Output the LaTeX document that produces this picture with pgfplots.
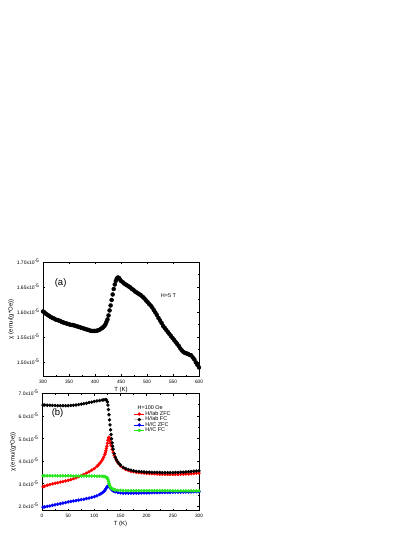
\documentclass[border=0pt]{standalone}
\usepackage{fontspec}
\setmainfont{Liberation Sans}
\usepackage{pgfplots}
\pgfplotsset{compat=1.18}

\pgfplotsset{
  chiaxis/.style={
    scale only axis,
    anchor=south west,
    tick align=inside,
    minor x tick num=1,
    minor y tick num=1,
    major tick length=2.2bp,
    minor tick length=1.3bp,
    tick style={black, line width=0.4pt},
    axis line style={line width=0.5pt},
    xticklabel style={font=\fontsize{4.8}{5}\selectfont},
    yticklabel style={font=\fontsize{5}{5.5}\selectfont},
    label style={font=\fontsize{6}{7}\selectfont},
    /pgf/number format/assume math mode=true,
    xlabel={T (K)},
    ylabel={χ (emu/(g*Oe))},
    xlabel style={yshift=3.5bp},
    ylabel style={yshift=-4bp},
  }
}

\begin{document}
\begin{tikzpicture}
\path[use as bounding box] (0,0) rectangle (415bp,-537bp);

% (a) H = 5 T
\begin{axis}[chiaxis,
  at={(43bp,-376.5bp)}, width=156bp, height=114.5bp,
  xmin=300, xmax=600, xtick={300,350,...,600},
  ymin=1.4708, ymax=1.70, ytick={1.50,1.55,1.60,1.65,1.70},
  yticklabel={\pgfmathprintnumber[fixed,fixed zerofill,precision=2]{\tick}x10\textsuperscript{-5}},
]
\addplot[only marks, mark=*, mark size=2bp, black] coordinates {
(300,1.601) (303,1.599) (306,1.596) (309,1.594) (312,1.592) (315,1.590) (318,1.588)
(321,1.587) (324,1.585) (327,1.584) (330,1.583) (333,1.582) (336,1.580) (339,1.579)
(342,1.578) (345,1.577) (348,1.576) (351,1.575) (354,1.574) (357,1.574) (360,1.573)
(363,1.572) (366,1.571) (369,1.570) (372,1.569) (375,1.568) (378,1.567) (381,1.566)
(384,1.565) (387,1.564) (390,1.563) (393,1.562) (396,1.562) (399,1.562) (402,1.562)
(405,1.563) (408,1.564) (411,1.566) (414,1.568) (416,1.570) (418,1.572) (420,1.575)
(422,1.580) (424,1.585) (426,1.593) (428,1.603) (430,1.613)
(432,1.624) (434,1.635) (436,1.646) (438,1.655) (440,1.662) (442,1.667)
(444,1.669) (446,1.668) (448,1.665) (450,1.662) (453,1.660) (456,1.657) (459,1.655)
(462,1.653) (465,1.651) (468,1.649) (471,1.646) (474,1.644) (477,1.641) (480,1.639)
(483,1.637) (486,1.635) (489,1.633) (492,1.630) (495,1.627) (498,1.623) (501,1.620)
(504,1.616) (507,1.613) (510,1.609) (513,1.604) (516,1.599) (519,1.594) (522,1.588)
(525,1.583) (528,1.578) (531,1.572) (534,1.568) (537,1.564) (540,1.560) (543,1.556)
(546,1.552) (549,1.548) (552,1.544) (555,1.540) (558,1.536) (561,1.532) (564,1.527)
(567,1.523) (570,1.520) (573,1.518) (576,1.517) (579,1.516) (582,1.514) (585,1.513)
(588,1.509) (591,1.505) (594,1.499) (597,1.494) (600,1.489)
};
\node[anchor=west, font=\fontsize{9.5}{10}\selectfont] at (axis cs:316,1.658) {(a)};
\node[anchor=west, font=\fontsize{5.5}{6}\selectfont] at (axis cs:520,1.633) {H=5 T};
\end{axis}

% (b) H = 100 Oe
\begin{axis}[chiaxis,
  at={(42bp,-510.7bp)}, width=157bp, height=117.4bp,
  xmin=0, xmax=300, xtick={0,50,...,300},
  ymin=1.79, ymax=7.0, ytick={2,3,4,5,6,7},
  yticklabel={\pgfmathprintnumber[fixed,fixed zerofill,precision=1]{\tick}x10\textsuperscript{-5}},
  legend style={at={(0.585,0.855)}, anchor=north west, draw=none, fill=none,
    font=\fontsize{5.5}{6}\selectfont, row sep=-1.6bp, inner sep=0pt,
    nodes={inner sep=0.8bp}},
  legend cell align=left,
  legend image code/.code={\draw[mark repeat=2, mark phase=2, #1]
    plot coordinates {(0bp,0bp) (5bp,0bp) (10bp,0bp)};},
]
\addplot[red, line width=0.5pt, mark=*, mark size=1.45bp] coordinates {
(2,2.85) (5,2.88) (10,2.92) (15,2.95) (20,2.98) (25,3.01) (30,3.03) (35,3.06)
(40,3.08) (45,3.11) (50,3.14) (55,3.17) (60,3.21) (65,3.25) (70,3.30) (75,3.35)
(80,3.40) (85,3.46) (90,3.52) (95,3.59) (100,3.66) (105,3.76) (108,3.83)
(111,3.91) (114,4.00) (116,4.08) (118,4.17) (120,4.28) (121,4.36) (122,4.45)
(123,4.55) (124,4.65) (125,4.78) (126,4.92) (127,5.02) (128,5.05) (129,4.98)
(130,4.88) (131,4.78) (132,4.68) (134,4.52) (136,4.38) (138,4.25) (140,4.14)
(143,4.00) (146,3.89) (150,3.78) (155,3.69) (160,3.62) (165,3.58) (170,3.54)
(175,3.52) (180,3.50) (185,3.48) (190,3.47) (195,3.46) (200,3.45) (205,3.44)
(210,3.43) (215,3.43) (220,3.42) (225,3.41) (230,3.41) (235,3.40) (240,3.40)
(245,3.40) (250,3.40) (255,3.40) (260,3.40) (265,3.41) (270,3.41) (275,3.42)
(280,3.42) (285,3.43) (290,3.44) (295,3.45) (300,3.46)
};
\addlegendentry{H//ab ZFC}
\addplot[gray!45, line width=0.5pt, mark=*, mark size=1.45bp,
  mark options={draw=black, fill=black}] coordinates {
(2,6.48) (5,6.48) (10,6.47) (15,6.47) (20,6.46) (25,6.46) (30,6.45) (35,6.45)
(40,6.45) (45,6.45) (50,6.45) (55,6.46) (60,6.47) (65,6.48) (70,6.50) (75,6.52)
(80,6.54) (85,6.56) (90,6.59) (95,6.61) (100,6.64) (105,6.66) (110,6.68)
(115,6.70) (118,6.71) (121,6.72) (123,6.71) (125,6.62) (126,6.48) (127,6.28)
(128,6.05) (129,5.82) (130,5.60) (131,5.38) (132,5.17) (133,4.98) (134,4.80)
(135,4.65) (136,4.52) (138,4.32) (140,4.17) (142,4.06) (145,3.95) (148,3.86)
(150,3.81) (155,3.72) (160,3.66) (165,3.62) (170,3.59) (175,3.56) (180,3.54)
(185,3.53) (190,3.52) (195,3.51) (200,3.50) (205,3.50) (210,3.49) (215,3.49)
(220,3.49) (225,3.49) (230,3.48) (235,3.48) (240,3.48) (245,3.48) (250,3.48)
(255,3.49) (260,3.49) (265,3.50) (270,3.50) (275,3.51) (280,3.52) (285,3.53)
(290,3.54) (295,3.55) (300,3.56)
};
\addlegendentry{H//ab FC}
\addplot[blue, line width=0.5pt, mark=*, mark size=1.45bp] coordinates {
(2,1.95) (5,1.96) (10,1.98) (15,2.00) (20,2.03) (25,2.05) (30,2.08) (35,2.10)
(40,2.13) (45,2.15) (50,2.18) (55,2.20) (60,2.22) (65,2.24) (70,2.26) (75,2.28)
(80,2.30) (85,2.33) (90,2.35) (95,2.38) (100,2.41) (105,2.45) (110,2.51)
(113,2.55) (116,2.60) (118,2.64) (120,2.69) (122,2.76) (124,2.83) (125,2.86)
(126,2.88) (127,2.89) (128,2.88) (129,2.85) (130,2.82) (131,2.79) (132,2.76)
(134,2.71) (136,2.67) (138,2.65) (140,2.63) (145,2.60) (150,2.58) (155,2.57)
(160,2.57) (165,2.57) (170,2.57) (175,2.57) (180,2.57) (185,2.57) (190,2.58)
(195,2.58) (200,2.58) (205,2.58) (210,2.59) (215,2.59) (220,2.59) (225,2.59)
(230,2.60) (235,2.60) (240,2.60) (245,2.60) (250,2.61) (255,2.61) (260,2.61)
(265,2.61) (270,2.62) (275,2.62) (280,2.62) (285,2.62) (290,2.63) (295,2.63)
(300,2.63)
};
\addlegendentry{H//C ZFC}
\addplot[color={rgb,255:red,40;green,230;blue,30}, line width=0.5pt, mark=*, mark size=1.45bp] coordinates {
(2,3.34) (5,3.34) (10,3.34) (15,3.34) (20,3.34) (25,3.34) (30,3.34) (35,3.34)
(40,3.34) (45,3.34) (50,3.34) (55,3.34) (60,3.33) (65,3.33) (70,3.33) (75,3.33)
(80,3.33) (85,3.33) (90,3.33) (95,3.33) (100,3.33) (105,3.32) (110,3.32)
(115,3.32) (118,3.31) (120,3.30) (122,3.29) (124,3.26) (125,3.23) (126,3.18)
(127,3.10) (128,3.01) (129,2.93) (130,2.87) (131,2.83) (132,2.80) (134,2.76)
(136,2.74) (138,2.72) (140,2.71) (145,2.70) (150,2.69) (155,2.68) (160,2.68)
(165,2.68) (170,2.68) (175,2.68) (180,2.68) (185,2.68) (190,2.68) (195,2.68)
(200,2.68) (205,2.68) (210,2.68) (215,2.68) (220,2.68) (225,2.68) (230,2.68)
(235,2.68) (240,2.68) (245,2.68) (250,2.67) (255,2.67) (260,2.67) (265,2.67)
(270,2.67) (275,2.67) (280,2.67) (285,2.67) (290,2.67) (295,2.67) (300,2.67)
};
\addlegendentry{H//C FC}
\node[anchor=west, font=\fontsize{9.5}{10}\selectfont] at (axis cs:12,6.13) {(b)};
\node[anchor=west, font=\fontsize{5.5}{6}\selectfont] at (axis cs:176,6.36) {H=100 Oe};
\end{axis}
\end{tikzpicture}
\end{document}
